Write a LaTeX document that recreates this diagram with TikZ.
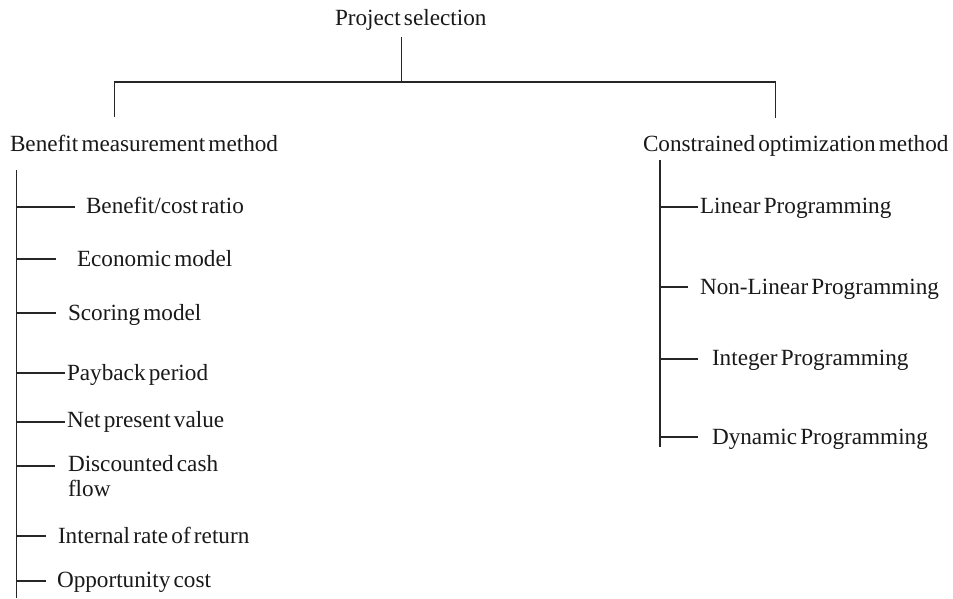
\documentclass[tikz,border=0pt]{standalone}
\usepackage{fontspec}
\setmainfont{Liberation Serif}
\tikzset{
  lbl/.style={anchor=base west, inner sep=0pt, outer sep=0pt, text=black!90,
    font={\fontsize{23.2}{25}\selectfont\spaceskip=0.14em\relax}},
  conn/.style={draw=black!85, line width=1.3pt},
}
\begin{document}
\begin{tikzpicture}[x=1pt,y=-1pt]
\useasboundingbox[fill=white] (0,0) rectangle (953,598);
% titles
\node[lbl] (root) at (335,25) {Project selection};
\node[lbl] (bmm) at (10,151) {Benefit measurement method};
\node[lbl] (com) at (643,151) {Constrained optimization method};
% top tree
\coordinate (rootb) at (401.5,37);
\coordinate (rootj) at (401.5,82);
\coordinate (lj) at (114.5,82);
\coordinate (rj) at (775.5,82);
\coordinate (lb) at (114.5,117);
\coordinate (rb) at (775.5,118);
\draw[conn] (rootb) -- (rootj);
\draw[conn] (lb) -- (lj) -- (rj) -- (rb);
% left trunk
\coordinate (lt) at (16.7,170);
\coordinate (lbot) at (16.7,598);
\draw[conn] (lt) -- (lbot);
% left items
\node[lbl] (b1) at (86,213) {Benefit/cost ratio};
\node[lbl] (b2) at (77,266) {Economic model};
\node[lbl] (b3) at (68,320) {Scoring model};
\node[lbl] (b4) at (67,380) {Payback period};
\node[lbl] (b5) at (67,427) {Net present value};
\node[lbl] (b6) at (68,471) {Discounted cash};
\node[lbl] (b6b) at (68,496) {flow};
\node[lbl] (b7) at (58,543) {Internal rate of return};
\node[lbl] (b8) at (57,587) {Opportunity cost};
\foreach \n/\y/\e in {1/207/75, 2/259/56, 3/313/56, 4/373/65, 5/422/65, 6/466/55, 7/536/46, 8/581/46}{
  \coordinate (ls\n) at (16.7,\y);
  \coordinate (le\n) at (\e,\y);
  \draw[conn] (ls\n) -- (le\n);
}
% right trunk
\coordinate (rt) at (660,160);
\coordinate (rbot) at (660,447);
\draw[conn] (rt) -- (rbot);
\node[lbl] (c1) at (700,213) {Linear Programming};
\node[lbl] (c2) at (700,294) {Non-Linear Programming};
\node[lbl] (c3) at (712,365) {Integer Programming};
\node[lbl] (c4) at (712,444) {Dynamic Programming};
\foreach \n/\y/\e in {1/207/698, 2/287/688, 3/359/698, 4/437/698}{
  \coordinate (rs\n) at (660,\y);
  \coordinate (re\n) at (\e,\y);
  \draw[conn] (rs\n) -- (re\n);
}
\end{tikzpicture}
\end{document}
